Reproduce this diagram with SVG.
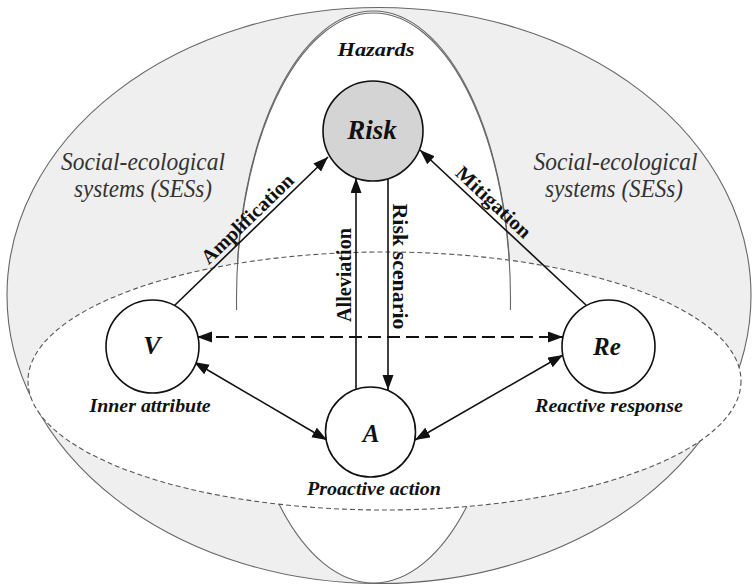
<svg xmlns="http://www.w3.org/2000/svg" width="755" height="585" viewBox="0 0 755 585">
  <style>
    .zone { stroke: #666; stroke-width: 1.1; }
    .hz { fill: none; stroke: #666; stroke-width: 1.1; }
    .node { fill: #fff; stroke: #111; stroke-width: 1.6; }
    .lbl { font-family: "Liberation Serif", "Times New Roman", serif; font-weight: bold; font-style: italic; fill: #111; text-anchor: middle; }
    .cap { font-family: "Liberation Serif", "Times New Roman", serif; font-weight: bold; font-style: italic; font-size: 19px; fill: #111; text-anchor: middle; }
    .ses { font-family: "Liberation Serif", "Times New Roman", serif; font-style: italic; font-size: 25px; fill: #333; text-anchor: middle; }
    .alab { font-family: "Liberation Serif", "Times New Roman", serif; font-weight: bold; font-size: 20px; fill: #111; text-anchor: middle; }
    .conn { stroke: #111; stroke-width: 1.6; fill: none; }
    .dash { stroke: #111; stroke-width: 2; fill: none; stroke-dasharray: 13 6; }
  </style>
  <defs>
    <marker id="ah" markerUnits="userSpaceOnUse" markerWidth="16" markerHeight="12" refX="15" refY="5.5" orient="auto-start-reverse">
      <path d="M0,0 L15,5.5 L0,11 z" fill="#111"/>
    </marker>
  </defs>

  <g id="background">
    <ellipse cx="379" cy="295.5" rx="372" ry="288" fill="#efefef" class="zone"/>
    <ellipse cx="373.5" cy="297" rx="137" ry="286" fill="#fff" class="zone"/>
    <ellipse cx="384.5" cy="381" rx="356.5" ry="129" fill="#fff" stroke="#555" stroke-width="1.1" stroke-dasharray="5 3"/>
    <path class="hz" d="M236.6,310 A137,286 0 1,1 510.4,310"/>
    <text class="lbl" x="376" y="56" font-size="19" textLength="77" lengthAdjust="spacingAndGlyphs">Hazards</text>
    <text class="ses" x="143" y="170" textLength="164" lengthAdjust="spacingAndGlyphs">Social-ecological</text>
    <text class="ses" x="143" y="197" textLength="138" lengthAdjust="spacingAndGlyphs">systems (SESs)</text>
    <text class="ses" x="615.5" y="170" textLength="164" lengthAdjust="spacingAndGlyphs">Social-ecological</text>
    <text class="ses" x="614" y="197" textLength="138" lengthAdjust="spacingAndGlyphs">systems (SESs)</text>
  </g>

  <g id="connectors">
    <line class="conn" x1="174" y1="306" x2="328" y2="157" marker-end="url(#ah)"/>
    <line class="conn" x1="586" y1="305" x2="420" y2="150" marker-end="url(#ah)"/>
    <line class="conn" x1="356" y1="389" x2="356" y2="178" marker-end="url(#ah)"/>
    <line class="conn" x1="388" y1="179" x2="388" y2="390" marker-end="url(#ah)"/>
    <line class="dash" x1="197" y1="337" x2="563" y2="337" marker-start="url(#ah)" marker-end="url(#ah)"/>
    <line class="conn" x1="194" y1="362" x2="327" y2="440" marker-start="url(#ah)" marker-end="url(#ah)"/>
    <line class="conn" x1="563" y1="355" x2="415" y2="440" marker-start="url(#ah)" marker-end="url(#ah)"/>
    <text class="alab" transform="translate(252,223.5) rotate(-44)" textLength="120" lengthAdjust="spacingAndGlyphs">Amplification</text>
    <text class="alab" transform="translate(489,207) rotate(43)" textLength="95" lengthAdjust="spacingAndGlyphs">Mitigation</text>
    <text class="alab" transform="translate(351,275) rotate(-90)" textLength="94" lengthAdjust="spacingAndGlyphs">Alleviation</text>
    <text class="alab" transform="translate(393,266.5) rotate(90)" textLength="126" lengthAdjust="spacingAndGlyphs">Risk scenario</text>
  </g>

  <g id="node-risk">
    <circle cx="373" cy="131" r="50" fill="#d4d4d4" stroke="#111" stroke-width="1.6"/>
    <text class="lbl" x="372" y="139" font-size="27">Risk</text>
  </g>

  <g id="node-v">
    <circle class="node" cx="152.5" cy="346.5" r="46.5"/>
    <text class="lbl" x="152" y="354" font-size="26">V</text>
    <text class="cap" x="150" y="412" textLength="121" lengthAdjust="spacingAndGlyphs">Inner attribute</text>
  </g>

  <g id="node-re">
    <circle class="node" cx="608.5" cy="346.5" r="46.5"/>
    <text class="lbl" x="607" y="355" font-size="25">Re</text>
    <text class="cap" x="609" y="412" textLength="148" lengthAdjust="spacingAndGlyphs">Reactive response</text>
  </g>

  <g id="node-a">
    <circle class="node" cx="370.5" cy="432" r="45"/>
    <text class="lbl" x="371" y="442" font-size="25">A</text>
    <text class="cap" x="374" y="495" textLength="134" lengthAdjust="spacingAndGlyphs">Proactive action</text>
  </g>
</svg>
